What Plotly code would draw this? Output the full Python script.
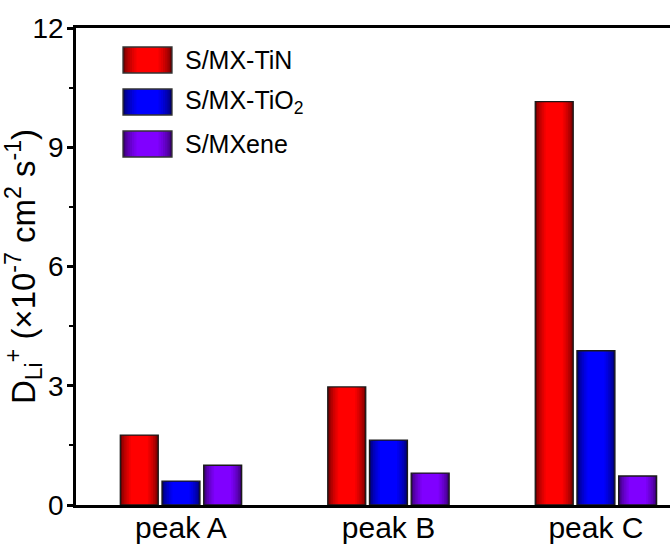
import plotly.graph_objects as go

# ---- data -------------------------------------------------------------
categories = ["peak A", "peak B", "peak C"]
series_names = ["S/MX-TiN", "S/MX-TiO<sub>2</sub>", "S/MXene"]
tin = [1.76, 2.97, 10.15]
tio2 = [0.60, 1.63, 3.88]
mxene = [1.00, 0.80, 0.73]
y_ticks = [0, 3, 6, 9, 12]

series_values = [tin, tio2, mxene]

# ---- style ------------------------------------------------------------
bright = [(255, 0, 0), (0, 0, 255), (128, 0, 255)]
dark = [(110, 0, 0), (0, 0, 110), (55, 0, 110)]
FONT = "Liberation Sans, Arial, sans-serif"

W, H = 670, 549
ML, MR, MT, MB = 76, 0, 28, 44

slot = 0.201        # distance between neighbouring bars in a group
bar_w = 0.183       # bar width in category units
n_layers = 7        # layers used to build the cylinder-like shading


def mix(c1, c2, t):
    r, g, b = (round(a + (bb - a) * t) for a, bb in zip(c1, c2))
    return f"rgb({r},{g},{b})"


def shade_steps():
    steps = []
    for j in range(n_layers):
        t = j / (n_layers - 1)
        steps.append((1 - 0.55 * t, t ** 0.6))
    return steps


fig = go.Figure()

for i, vals in enumerate(series_values):
    centre = (i - 1) * slot
    for frac, t in shade_steps():
        w = bar_w * frac
        fig.add_trace(go.Bar(
            x=categories, y=vals,
            width=[w] * len(categories),
            offset=[centre - w / 2] * len(categories),
            marker=dict(color=mix(dark[i], bright[i], t), line=dict(width=0)),
            showlegend=False, hoverinfo="skip",
        ))
    # outline on top of the shading
    fig.add_trace(go.Bar(
        x=categories, y=vals,
        width=[bar_w] * len(categories),
        offset=[centre - bar_w / 2] * len(categories),
        marker=dict(color="rgba(0,0,0,0)", line=dict(color="#1a1a1a", width=1.3)),
        name=series_names[i], showlegend=False, hoverinfo="skip",
    ))

# ---- hand-drawn legend with shaded swatches ---------------------------
PW = W - ML - MR
PH = H - MT - MB


def px_x(x):
    return (x - ML) / PW


def px_y(y):
    return (H - MB - y) / PH


shapes = []
annotations = []
legend_rows = [60, 102, 144]   # vertical centres of the legend rows
sw_left, sw_right, sw_h = 123, 172, 26
for i, yc in enumerate(legend_rows):
    cx = (sw_left + sw_right) / 2
    full = sw_right - sw_left
    for frac, t in shade_steps():
        half = full * frac / 2
        shapes.append(dict(
            type="rect", xref="paper", yref="paper",
            x0=px_x(cx - half), x1=px_x(cx + half),
            y0=px_y(yc + sw_h / 2), y1=px_y(yc - sw_h / 2),
            fillcolor=mix(dark[i], bright[i], t), line=dict(width=0), layer="above",
        ))
    shapes.append(dict(
        type="rect", xref="paper", yref="paper",
        x0=px_x(sw_left), x1=px_x(sw_right),
        y0=px_y(yc + sw_h / 2), y1=px_y(yc - sw_h / 2),
        fillcolor="rgba(0,0,0,0)", line=dict(color="#333", width=1.3), layer="above",
    ))
    annotations.append(dict(
        xref="paper", yref="paper", x=px_x(183), y=px_y(yc),
        xanchor="left", yanchor="middle", showarrow=False,
        text=series_names[i], font=dict(family=FONT, size=25, color="black"),
    ))

fig.update_layout(
    width=W, height=H,
    margin=dict(l=ML, r=MR, t=MT, b=MB),
    paper_bgcolor="white", plot_bgcolor="white",
    barmode="overlay",
    shapes=shapes, annotations=annotations,
    font=dict(family=FONT, color="black"),
)

fig.update_xaxes(
    type="category", range=[-0.506, 2.357],
    showline=True, linewidth=3, linecolor="black", mirror=True,
    ticks="", showgrid=False, zeroline=False,
    tickfont=dict(family=FONT, size=30, color="black"),
    ticklabelstandoff=-6, automargin=False,
)

fig.update_yaxes(
    range=[0, 12], tickvals=y_ticks, ticktext=[str(v) for v in y_ticks],
    showline=True, linewidth=2.5, linecolor="black", mirror=False,
    ticks="outside", ticklen=6, tickwidth=2.5, tickcolor="black",
    minor=dict(dtick=1.5, ticks="outside", ticklen=4, tickwidth=2, tickcolor="black"),
    showgrid=False, zeroline=False,
    tickfont=dict(family=FONT, size=28, color="black"),
    ticklabelstandoff=-2, automargin=False,
    title=dict(
        text="D<sub>Li</sub><sup>+</sup> (×10<sup>-7</sup> cm<sup>2</sup> s<sup>-1</sup>)",
        font=dict(family=FONT, size=33, color="black"),
        standoff=2,
    ),
)

fig.write_html("out.html")
